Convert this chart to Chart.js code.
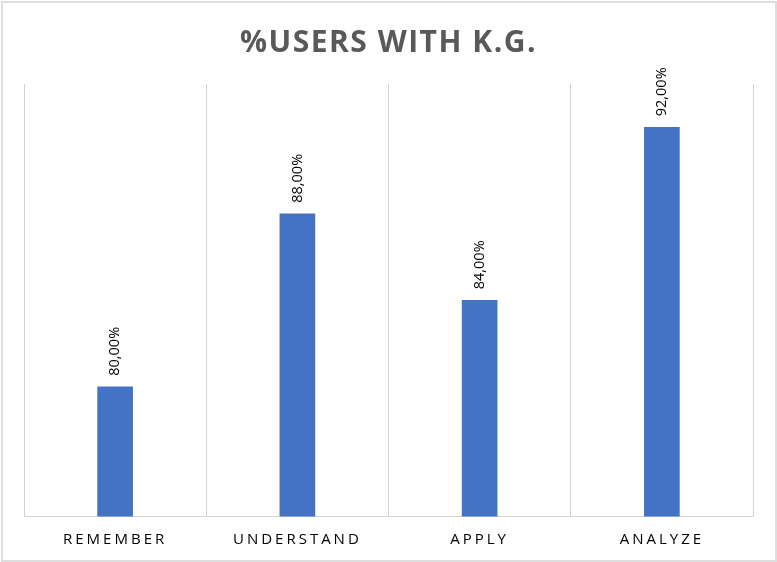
<!DOCTYPE html>
<html>
<head>
<meta charset="utf-8">
<script src="https://cdn.jsdelivr.net/npm/chart.js@4/dist/chart.umd.min.js"></script>
<style>
    body { margin: 0; background: #fff; }
    #wrap { position: relative; width: 777px; height: 562px; }
    #frame {
        position: absolute; left: 1px; top: 1px;
        width: 772px; height: 557px;
        border: 2px solid #dedede;
        pointer-events: none;
    }
</style>
</head>
<body>
<div id="wrap">
    <canvas id="kgChart"></canvas>
    <div id="frame"></div>
</div>
<script>
const categories = ['REMEMBER', 'UNDERSTAND', 'APPLY', 'ANALYZE'];
const usersWithKG = [80, 88, 84, 92];
const axisMin = 74;
const axisMax = 94;

const gridGray = '#d4d4d4';
const barBlue = '#4472C4';

// Excel-like letter spacing on the category labels
const spacedLabels = {
    id: 'spacedLabels',
    beforeDraw(chart) {
        chart.ctx.letterSpacing = '1.5px';
        const s = chart.scales.x;
        if (s._spaced) return;
        const orig = s.drawLabels;
        s.drawLabels = function (area) {
            const c = this.ctx;
            c.save();
            c.letterSpacing = '3px';
            orig.call(this, area);
            c.restore();
        };
        s._spaced = true;
    }
};

// rotated value labels above the bars
const valueLabels = {
    id: 'valueLabels',
    afterDatasetsDraw(chart) {
        const ctx = chart.ctx;
        const meta = chart.getDatasetMeta(0);
        ctx.save();
        ctx.letterSpacing = '0px';
        ctx.font = '14.5px "Open Sans"';
        ctx.fillStyle = '#000';
        ctx.textAlign = 'left';
        ctx.textBaseline = 'middle';
        meta.data.forEach((bar, i) => {
            const text = usersWithKG[i].toFixed(2).replace('.', ',') + '%';
            ctx.save();
            ctx.translate(bar.x, bar.y - 11);
            ctx.rotate(-Math.PI / 2);
            ctx.fillText(text, 0, 0);
            ctx.restore();
        });
        ctx.restore();
    }
};

new Chart(document.getElementById('kgChart'), {
    type: 'bar',
    data: {
        labels: categories,
        datasets: [{
            data: usersWithKG,
            backgroundColor: barBlue,
            barThickness: 35
        }]
    },
    options: {
        responsive: true,
        maintainAspectRatio: false,
        animation: false,
        layout: { padding: { left: 24, right: 24, top: 0, bottom: 0 } },
        plugins: {
            legend: { display: false },
            tooltip: { enabled: false },
            title: {
                display: true,
                text: '%USERS WITH K.G.',
                color: '#595959',
                font: { family: '"Open Sans"', size: 30, weight: 'bold', lineHeight: 1.2 },
                padding: { top: 25, bottom: 23 }
            }
        },
        scales: {
            x: {
                grid: { color: gridGray, lineWidth: 1, drawTicks: false, offset: true },
                border: { color: gridGray, width: 1 },
                ticks: {
                    color: '#000',
                    font: { family: '"Open Sans"', size: 15 },
                    padding: 14,
                    maxRotation: 0,
                    autoSkip: false
                },
                afterFit(scale) { scale.height = 45.5; }
            },
            y: {
                display: false,
                min: axisMin,
                max: axisMax
            }
        }
    },
    plugins: [spacedLabels, valueLabels]
});
</script>
</body>
</html>
